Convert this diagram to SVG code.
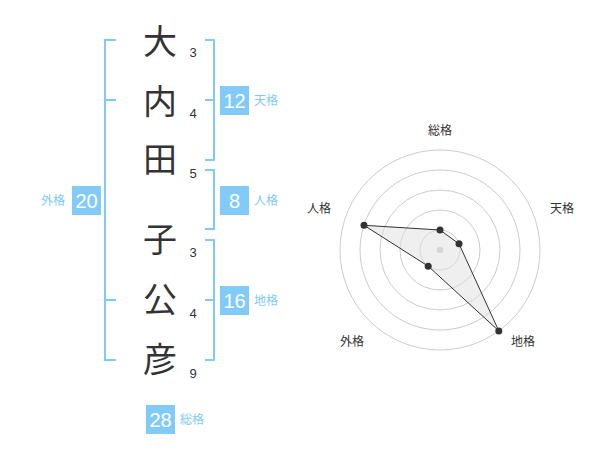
<svg xmlns="http://www.w3.org/2000/svg" width="600" height="470" viewBox="0 0 600 470">
<style>
.k{font-family:"Noto Sans CJK JP","Noto Sans CJK SC",sans-serif;font-size:34px;fill:#333;text-anchor:middle}
.n{font-family:"Liberation Sans",Arial,sans-serif;font-size:13px;fill:#333;text-anchor:middle}
.br{fill:none;stroke:#80c9f8;stroke-width:2}
.bx{fill:#82cbf9}
.bt{font-family:"Liberation Sans",Arial,sans-serif;font-size:20px;fill:#fff;text-anchor:middle}
.lb{font-family:"Noto Sans CJK JP","Noto Sans CJK SC",sans-serif;font-size:12px;fill:#80c9f8}
.rl{font-family:"Noto Sans CJK JP","Noto Sans CJK SC",sans-serif;font-size:12px;fill:#333;text-anchor:middle}
.ring{fill:none;stroke:#ccc;stroke-width:1}
.pt{fill:#333}
</style>
<rect width="600" height="470" fill="#fff"/>
<g id="chars">
<text class="k" x="160" y="54">大</text>
<text class="k" x="160" y="114">内</text>
<text class="k" x="160" y="172">田</text>
<text class="k" x="160" y="252">子</text>
<text class="k" x="160" y="312">公</text>
<text class="k" x="160" y="372">彦</text>
<text class="n" x="193" y="57">3</text>
<text class="n" x="193" y="118">4</text>
<text class="n" x="193" y="178">5</text>
<text class="n" x="193" y="257">3</text>
<text class="n" x="193" y="318">4</text>
<text class="n" x="193" y="378">9</text>
</g>
<g id="connectors">
<path class="br" d="M116,40 H105 V360 H116 M105,100 H116 M105,300 H116"/>
<path class="br" d="M205,40 H214 V160 H205 M205,100 H214"/>
<path class="br" d="M205,170 H214 V229 H205"/>
<path class="br" d="M205,240 H214 V360 H205 M205,300 H214"/>
</g>
<g id="tenkaku">
<rect class="bx" x="220" y="86" width="29" height="29"/>
<text class="bt" x="234.5" y="107.5">12</text>
<text class="lb" x="254" y="105">天格</text>
</g>
<g id="jinkaku">
<rect class="bx" x="220" y="186" width="29" height="29"/>
<text class="bt" x="234.5" y="207.5">8</text>
<text class="lb" x="254" y="205">人格</text>
</g>
<g id="chikaku">
<rect class="bx" x="220" y="286" width="29" height="29"/>
<text class="bt" x="234.5" y="307.5">16</text>
<text class="lb" x="254" y="305">地格</text>
</g>
<g id="gaikaku">
<rect class="bx" x="72" y="186" width="29" height="29"/>
<text class="bt" x="86.5" y="207.5">20</text>
<text class="lb" x="65" y="205" text-anchor="end">外格</text>
</g>
<g id="soukaku">
<rect class="bx" x="146" y="405" width="29" height="29"/>
<text class="bt" x="160.5" y="426.5">28</text>
<text class="lb" x="180" y="424">総格</text>
</g>
<g id="radar">
<circle class="ring" cx="440" cy="250" r="20"/>
<circle class="ring" cx="440" cy="250" r="40"/>
<circle class="ring" cx="440" cy="250" r="60"/>
<circle class="ring" cx="440" cy="250" r="80"/>
<circle class="ring" cx="440" cy="250" r="100"/>
<circle cx="440" cy="250" r="3.3" fill="#ccc"/>
<polygon points="440,230 459,243.8 498.8,330.9 428.2,266.2 364,225.3" fill="#e0e0e0" fill-opacity="0.5" stroke="#333" stroke-width="1"/>
<circle class="pt" cx="440" cy="230" r="3.5"/>
<circle class="pt" cx="459" cy="243.8" r="3.5"/>
<circle class="pt" cx="498.8" cy="330.9" r="3.5"/>
<circle class="pt" cx="428.2" cy="266.2" r="3.5"/>
<circle class="pt" cx="364" cy="225.3" r="3.5"/>
<text class="rl" x="440" y="135">総格</text>
<text class="rl" x="562" y="213">天格</text>
<text class="rl" x="523" y="346">地格</text>
<text class="rl" x="352" y="346">外格</text>
<text class="rl" x="319" y="213">人格</text>
</g>
</svg>
